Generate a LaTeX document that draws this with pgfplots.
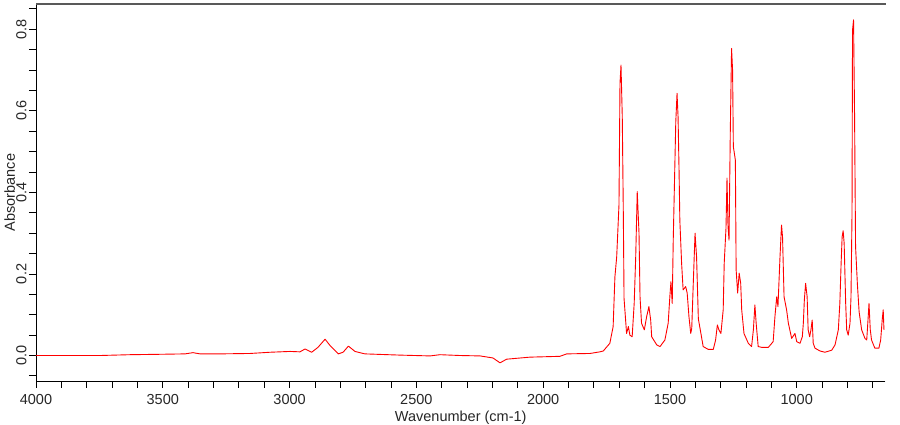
\documentclass[border=0pt]{standalone}
\usepackage{fontspec}
\setmainfont{Liberation Sans}
\usepackage{pgfplots}
\usepackage{pgfplotstable}
\pgfplotsset{compat=1.18}
\pgfplotstableread{
w A
4000 0.000
3748 0.000
3629 0.002
3511 0.003
3412 0.004
3381 0.007
3353 0.004
3274 0.004
3156 0.005
3077 0.008
2998 0.010
2959 0.009
2939 0.016
2913 0.008
2888 0.020
2860 0.040
2841 0.025
2808 0.004
2789 0.008
2768 0.023
2742 0.010
2703 0.004
2565 0.001
2446 -0.001
2407 0.002
2328 0.000
2249 -0.001
2198 -0.006
2170 -0.018
2144 -0.009
2052 -0.004
1934 -0.002
1907 0.004
1815 0.005
1776 0.009
1763 0.011
1737 0.030
1724 0.071
1717 0.193
1710 0.242
1701 0.369
1697 0.667
1693 0.712
1688 0.586
1684 0.357
1681 0.140
1671 0.054
1664 0.071
1658 0.050
1649 0.046
1641 0.128
1635 0.242
1629 0.402
1622 0.300
1618 0.144
1612 0.079
1601 0.063
1592 0.095
1583 0.120
1576 0.087
1572 0.046
1552 0.026
1539 0.022
1520 0.038
1507 0.079
1500 0.148
1496 0.181
1491 0.128
1487 0.283
1477 0.573
1472 0.643
1468 0.586
1464 0.451
1461 0.332
1454 0.226
1448 0.161
1438 0.169
1432 0.153
1425 0.095
1418 0.054
1414 0.067
1408 0.177
1401 0.300
1395 0.242
1388 0.090
1379 0.058
1369 0.022
1349 0.015
1329 0.015
1320 0.038
1313 0.075
1307 0.063
1299 0.054
1290 0.112
1286 0.226
1279 0.312
1275 0.435
1271 0.316
1267 0.283
1262 0.549
1257 0.753
1253 0.700
1250 0.512
1246 0.496
1242 0.479
1239 0.210
1233 0.153
1227 0.202
1221 0.177
1217 0.112
1208 0.054
1191 0.030
1178 0.022
1171 0.063
1165 0.124
1160 0.079
1152 0.022
1138 0.020
1112 0.020
1093 0.034
1086 0.095
1079 0.144
1074 0.120
1066 0.242
1060 0.320
1056 0.291
1050 0.144
1040 0.112
1033 0.079
1020 0.042
1007 0.054
1000 0.034
987 0.030
978 0.046
974 0.079
970 0.136
965 0.177
959 0.144
955 0.063
949 0.046
944 0.063
939 0.087
935 0.030
928 0.018
908 0.011
889 0.008
862 0.013
849 0.026
836 0.063
830 0.128
825 0.226
821 0.291
817 0.306
813 0.275
807 0.128
803 0.063
797 0.050
790 0.079
786 0.144
782 0.349
780 0.798
776 0.823
772 0.594
768 0.267
761 0.177
754 0.107
744 0.063
731 0.042
724 0.038
719 0.087
715 0.128
710 0.063
705 0.038
692 0.018
676 0.018
669 0.038
663 0.087
659 0.112
656 0.063
}\spectrum
\begin{document}
\begin{tikzpicture}[x=1pt,y=1pt]
\begin{axis}[
  at={(0,0)}, anchor=south west,
  scale only axis, width=849.5pt, height=377pt,
  x dir=reverse, xmin=650, xmax=4000, ymin=-0.0625, ymax=0.862,
  axis lines*=left,
  axis line style={-, black, line width=0.8pt},
  xtick={1000,1500,2000,2500,3000,3500,4000},
  minor xtick={700,800,900,1100,1200,1300,1400,1600,1700,1800,1900,2100,2200,2300,2400,2600,2700,2800,2900,3100,3200,3300,3400,3600,3700,3800,3900},
  ytick={0,0.2,0.4,0.6,0.8},
  minor ytick={-0.05,0.05,0.1,0.15,0.25,0.3,0.35,0.45,0.5,0.55,0.65,0.7,0.75,0.85},
  tick align=outside, major tick length=7pt, minor tick length=7pt,
  tick style={black, line width=0.8pt},
  /pgf/number format/assume math mode=true,
  xticklabel shift=17pt,
  yticklabel shift=2.5pt,
  xticklabel style={/pgf/number format/1000 sep={}, anchor=base, inner sep=0pt},
  yticklabel style={/pgf/number format/.cd, fixed, fixed zerofill, precision=1, /tikz/.cd, rotate=90, anchor=base, inner sep=0pt},
  ticklabel style={font=\fontsize{14.5}{17}\selectfont, text=black!85},
  label style={font=\fontsize{14.5}{17}\selectfont, text=black!85},
  xlabel={Wavenumber (cm-1)},
  ylabel={Absorbance},
  xlabel style={at={([yshift=-40.5pt]axis description cs:0.5,0)}, anchor=base, inner sep=0pt},
  ylabel style={at={([xshift=-21pt]axis description cs:0,0.5)}, anchor=base, inner sep=0pt, rotate=0},
  clip=true,
]
\addplot[red, line width=0.9pt, line join=round] table[x=w, y=A] {\spectrum};
\end{axis}
\draw[black!65, line width=2pt] (0,377) -- (849.5,377);
\pgfresetboundingbox
\path[use as bounding box] (-36,-44) rectangle (864,381);
\end{tikzpicture}
\end{document}
